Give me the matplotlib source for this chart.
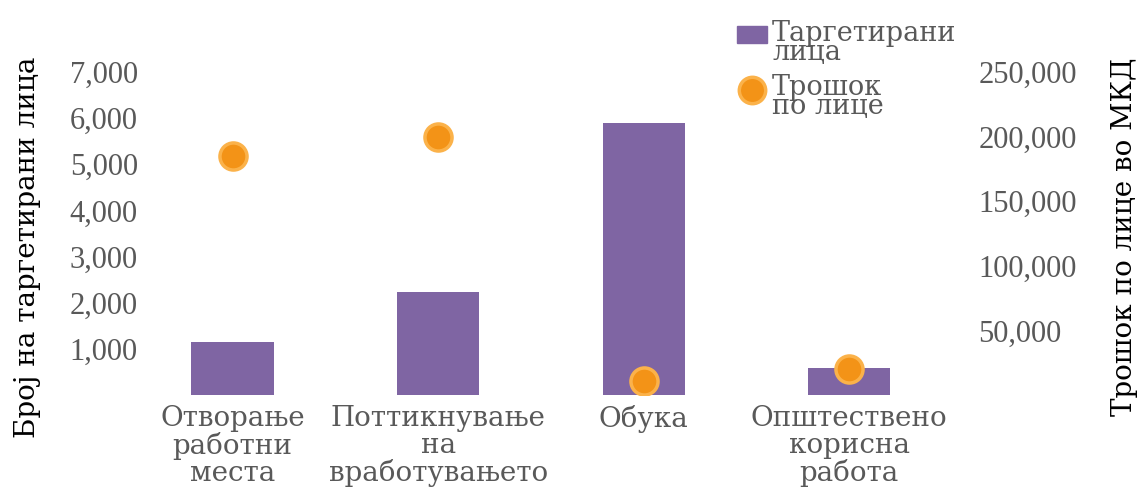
import matplotlib.pyplot as plt
from matplotlib.lines import Line2D
from matplotlib.patches import Rectangle
from matplotlib.ticker import FuncFormatter

categories = ["Отворање\nработни\nместа", "Поттикнување\nна\nвработувањето",
              "Обука", "Општествено\nкорисна\nработа"]
targeted = [1150, 2230, 5900, 580]
cost_per_person = [185000, 200000, 11000, 20500]
left_ticks = [1000, 2000, 3000, 4000, 5000, 6000, 7000]
right_ticks = [50000, 100000, 150000, 200000, 250000]
legend_labels = ["Таргетирани\nлица", "Трошок\nпо лице"]

plt.rcParams['font.family'] = ['DejaVu Serif']
NUMFONT = ['Liberation Serif', 'DejaVu Serif']
BAR = "#7f65a3"
GREY = "#595959"
ORANGE = "#f39317"
ORANGE_EDGE = "#fbb24a"
FS = 20
NFS = 22
W, H = 1142, 491

fig = plt.figure(figsize=(W / 100, H / 100), dpi=100)
ax = fig.add_axes([140 / W, 1 - 395 / H, 812 / W, 323 / H])
ax2 = ax.twinx()

x = range(len(categories))
ax.bar(x, targeted, width=0.4, color=BAR, zorder=2)
ax2.scatter(x, cost_per_person, s=380, color=ORANGE, edgecolor=ORANGE_EDGE,
            linewidth=2.5, zorder=3)

fmt = FuncFormatter(lambda v, p: f"{int(v):,}")
ax.set_xlim(-0.45, 3.5)
ax.set_ylim(0, 7000)
ax.set_yticks(left_ticks)
ax.yaxis.set_major_formatter(fmt)
ax2.set_ylim(0, 250000)
ax2.set_yticks(right_ticks)
ax2.yaxis.set_major_formatter(fmt)

ax.set_xticks(list(x))
ax.set_xticklabels(categories, fontsize=FS, linespacing=1.0, color=GREY)
ax.tick_params(axis="x", length=0, pad=7)
ax.tick_params(axis="y", length=0, pad=1.5)
ax2.tick_params(axis="y", length=0, pad=19)
for lbl in ax.get_yticklabels() + ax2.get_yticklabels():
    lbl.set_family(NUMFONT)
    lbl.set_fontsize(NFS)
    lbl.set_color(GREY)
for lbl in ax2.get_yticklabels():
    lbl.set_horizontalalignment("left")

for a in (ax, ax2):
    for s in a.spines.values():
        s.set_visible(False)

fig.text(28 / W, 1 - 247 / H, "Број на таргетирани лица", rotation=90,
         fontsize=FS, ha="center", va="center")
fig.text(1125 / W, 1 - 237 / H, "Трошок по лице во МКД", rotation=90,
         fontsize=FS, ha="center", va="center")

# legend, drawn by hand so the compressed two-line labels match
fig.add_artist(Rectangle((737 / W, 1 - 43 / H), 30 / W, 17 / H,
                         transform=fig.transFigure, color=BAR))
fig.add_artist(Line2D([752 / W], [1 - 90 / H], transform=fig.transFigure,
                      marker="o", markersize=19, markerfacecolor=ORANGE,
                      markeredgecolor=ORANGE_EDGE, markeredgewidth=2.5))
for txt, top in zip(legend_labels, [20, 74]):
    fig.text(772 / W, 1 - top / H, txt, fontsize=19.5, color=GREY,
             ha="left", va="top", linespacing=0.6)

fig.savefig("out.png", dpi=100)
